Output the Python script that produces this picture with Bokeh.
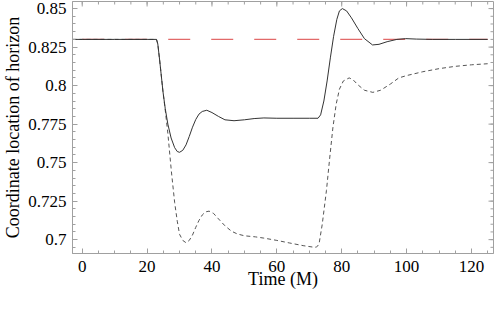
from bokeh.plotting import figure
from bokeh.models import FixedTicker, CustomJSTickFormatter, Range1d
from bokeh.embed import file_html
from bokeh.resources import INLINE

# ---- data ----
t_solid = [-3, 0, 10, 20, 22.9, 23.3, 23.9, 24.9, 25.6, 26.4, 27.4, 28.5, 29.3, 30, 31, 32, 33, 34, 35, 36, 37,
           38.4, 40, 42, 44, 46.8, 50, 53, 56, 60, 65, 70, 72.7, 73.5, 74.5, 75.5, 76.5, 77.5, 78.5, 79.3, 80.2,
           81.5, 83, 85, 87, 89.5, 91.5, 94, 97, 99.7, 103, 108, 115, 125]
v_solid = [0.83, 0.83, 0.83, 0.83, 0.83, 0.827, 0.816, 0.796, 0.785, 0.775, 0.766, 0.7597, 0.7572, 0.7567, 0.758,
           0.7615, 0.767, 0.773, 0.778, 0.7815, 0.7832, 0.784, 0.7825, 0.780, 0.7778, 0.7772, 0.7778, 0.7786,
           0.779, 0.7788, 0.7788, 0.7788, 0.7788, 0.781, 0.790, 0.803, 0.818, 0.832, 0.843, 0.8485, 0.850,
           0.8485, 0.844, 0.837, 0.8305, 0.8264, 0.8268, 0.8285, 0.830, 0.8305, 0.8302, 0.830, 0.83, 0.83]

t_dash = [-3, 0, 10, 20, 22.9, 23.3, 23.9, 24.9, 25.6, 26.4, 27.5, 28.5, 29.3, 30, 31, 32, 33, 34, 35, 36, 37, 38,
          39.1, 40.5, 42, 44, 46, 47.8, 50, 53.4, 56, 60, 64, 68.1, 71, 72.2, 73, 74, 75.3, 76.3, 77.3, 78.3,
          79.3, 80.5, 82.3, 83.5, 85, 87, 89.6, 92, 95, 97.6, 100, 105, 110, 115, 120, 125]
v_dash = [0.83, 0.83, 0.83, 0.83, 0.83, 0.827, 0.816, 0.796, 0.784, 0.769, 0.744, 0.724, 0.712, 0.7035, 0.6995,
          0.698, 0.6995, 0.703, 0.708, 0.7125, 0.716, 0.718, 0.7185, 0.717, 0.7135, 0.709, 0.7055, 0.7037,
          0.7025, 0.7018, 0.701, 0.6995, 0.6978, 0.6961, 0.6952, 0.6951, 0.697, 0.710, 0.732, 0.753, 0.773,
          0.788, 0.7977, 0.803, 0.805, 0.8038, 0.8005, 0.797, 0.7956, 0.797, 0.801, 0.805, 0.8065, 0.809,
          0.811, 0.8125, 0.8135, 0.8142]

t_ref = [0, 125]
v_ref = [0.83, 0.83]

x_ticks = [0, 20, 40, 60, 80, 100, 120]
x_minor = [-5, 0, 5, 10, 15, 20, 25, 30, 35, 40, 45, 50, 55, 60, 65, 70, 75, 80, 85, 90, 95, 100, 105, 110,
           115, 120, 125]
y_ticks = [0.7, 0.725, 0.75, 0.775, 0.8, 0.825, 0.85]
y_tick_labels = ["0.7", "0.725", "0.75", "0.775", "0.8", "0.825", "0.85"]
y_minor = [0.69, 0.695, 0.7, 0.705, 0.71, 0.715, 0.72, 0.725, 0.73, 0.735, 0.74, 0.745, 0.75, 0.755, 0.76,
           0.765, 0.77, 0.775, 0.78, 0.785, 0.79, 0.795, 0.8, 0.805, 0.81, 0.815, 0.82, 0.825, 0.83, 0.835,
           0.84, 0.845, 0.85]

FONT = "Liberation Serif"
FRAME = "#a0a0a0"
X0, X1 = -3, 126.8
Y0, Y1 = 0.691, 0.8546

p = figure(frame_width=421, frame_height=252, output_backend="svg", toolbar_location=None,
           x_range=Range1d(X0, X1), y_range=Range1d(Y0, Y1),
           x_axis_label="Time (M)", y_axis_label="Coordinate location of horizon")
p.min_border_top = 1
p.min_border_right = 1
p.min_border_left = 0
p.min_border_bottom = 0
p.background_fill_color = "white"
p.border_fill_color = "white"
p.grid.visible = False
p.outline_line_color = FRAME
p.outline_line_width = 1

p.line(t_ref, v_ref, line_color="#e26a6a", line_width=1.1, line_dash="22 21")
p.line(t_dash, v_dash, line_color="#555555", line_width=1, line_dash="4 3")
p.line(t_solid, v_solid, line_color="#333333", line_width=1)

ylabel_fmt = CustomJSTickFormatter(args=dict(vals=y_ticks, labs=y_tick_labels), code="""
for (let i = 0; i < vals.length; i++) { if (Math.abs(vals[i] - tick) < 1e-6) return labs[i]; }
return '';
""")

def style(ax):
    ax.axis_line_color = FRAME
    ax.major_tick_line_color = FRAME
    ax.minor_tick_line_color = FRAME
    ax.major_tick_in = 5
    ax.major_tick_out = 0
    ax.minor_tick_in = 3
    ax.minor_tick_out = 0
    ax.major_label_text_font = FONT
    ax.major_label_text_font_size = "17px"
    ax.major_label_text_color = "black"
    ax.axis_label_text_font = FONT
    ax.axis_label_text_font_size = "18px"
    ax.axis_label_text_font_style = "normal"
    ax.axis_label_text_color = "black"

xa = p.xaxis[0]
xa.ticker = FixedTicker(ticks=x_ticks, minor_ticks=x_minor)
style(xa)
xa.major_label_standoff = 7
xa.axis_label_standoff = -6

ya = p.yaxis[0]
ya.ticker = FixedTicker(ticks=y_ticks, minor_ticks=y_minor)
ya.formatter = ylabel_fmt
style(ya)
ya.major_label_standoff = 6
ya.axis_label_standoff = 2

# ticks on the top and right edges of the frame (Mathematica-style box), as screen-length rays
PI = 3.14159265
p.ray(x=[X1] * len(y_ticks), y=y_ticks, length=5, angle=PI, length_units="screen",
      line_color=FRAME, line_width=1)
p.ray(x=[X1] * len(y_minor), y=y_minor, length=3, angle=PI, length_units="screen",
      line_color=FRAME, line_width=1)
p.ray(x=x_ticks, y=[Y1] * len(x_ticks), length=5, angle=-PI / 2, length_units="screen",
      line_color=FRAME, line_width=1)
p.ray(x=x_minor, y=[Y1] * len(x_minor), length=3, angle=-PI / 2, length_units="screen",
      line_color=FRAME, line_width=1)

open("out.html", "w").write(file_html(p, INLINE))
